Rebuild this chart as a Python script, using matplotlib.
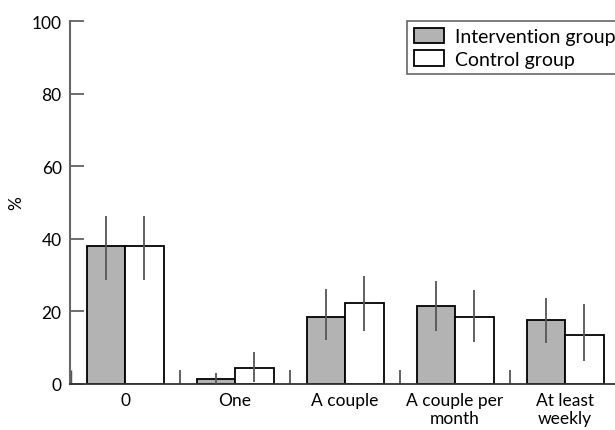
import numpy as np
import matplotlib
matplotlib.use('Agg')
import matplotlib.pyplot as plt

categories = ['0', 'One', 'A couple', 'A couple per\nmonth', 'At least\nweekly']
intervention = [38.0, 1.5, 18.5, 21.5, 17.5]
intervention_lo = [28.7, 0.0, 12.2, 14.7, 11.3]
intervention_hi = [46.3, 3.0, 26.2, 28.4, 23.7]
control = [38.0, 4.5, 22.4, 18.5, 13.4]
control_lo = [28.7, 0.5, 14.7, 11.7, 6.4]
control_hi = [46.3, 8.8, 29.8, 25.8, 22.0]

plt.rcParams['font.family'] = ['Lato', 'DejaVu Sans']
plt.rcParams['font.size'] = 12.5

fig = plt.figure(figsize=(6.15, 4.31), dpi=100)
ax = fig.add_axes([70 / 615, 46 / 431, 545 / 615, 363 / 431])

x = np.arange(len(categories))
w = 0.35
grey = '#b3b3b3'
err_col = '#555555'

def errs(vals, lo, hi):
    vals = np.array(vals)
    return [vals - np.array(lo), np.array(hi) - vals]

ax.bar(x - w / 2, intervention, w, color=grey, edgecolor='black', linewidth=1.3,
       label='Intervention group', zorder=2)
ax.bar(x + w / 2, control, w, color='white', edgecolor='black', linewidth=1.3,
       label='Control group', zorder=2)
ax.errorbar(x - w / 2, intervention, yerr=errs(intervention, intervention_lo, intervention_hi),
            fmt='none', ecolor=err_col, elinewidth=1.3, capsize=0, zorder=3)
ax.errorbar(x + w / 2, control, yerr=errs(control, control_lo, control_hi),
            fmt='none', ecolor=err_col, elinewidth=1.3, capsize=0, zorder=3)

# little separator ticks between groups
ax.vlines(x[:-1] + 0.5, 0, 3.9, color=err_col, linewidth=1.3, zorder=1)
ax.vlines([-0.5], 0, 3.9, color=err_col, linewidth=2.5, zorder=1)

ax.set_xlim(-0.5, 4.4545)
ax.set_ylim(0, 100)
ax.set_yticks([0, 20, 40, 60, 80, 100])
ax.set_xticks(x)
ax.set_xticklabels(categories, linespacing=1.15)
ax.tick_params(axis='x', length=0, pad=6)
ax.tick_params(axis='y', direction='in', length=10, width=1.2, color='#555555', pad=6)
ax.set_ylabel('%', labelpad=5)

for s in ['top', 'right']:
    ax.spines[s].set_visible(False)
ax.spines['left'].set_color('#666666')
ax.spines['left'].set_linewidth(1.5)
ax.spines['bottom'].set_color('#333333')
ax.spines['bottom'].set_linewidth(1.3)

leg = ax.legend(loc='upper left', bbox_to_anchor=(0.618, 1.0), borderaxespad=0,
                fancybox=False, framealpha=1, edgecolor='#666666', fontsize=14,
                handlelength=1.55, handleheight=0.85, handletextpad=0.6,
                labelspacing=0.25, borderpad=0.35)
leg.get_frame().set_linewidth(1.2)

fig.savefig('out.png', dpi=100)
